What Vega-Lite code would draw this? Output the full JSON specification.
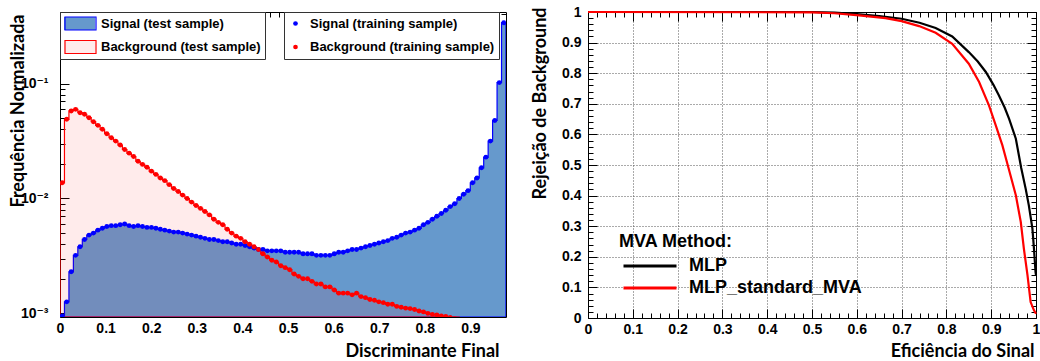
{
  "$schema": "https://vega.github.io/schema/vega-lite/v6.json",
  "background": "white",
  "padding": {"left": 9, "top": 5, "right": 0, "bottom": 0},
  "bounds": "flush",
  "spacing": 82,
  "resolve": {"scale": {"fill": "independent", "stroke": "independent", "color": "independent"}, "legend": {"fill": "independent", "stroke": "independent", "color": "independent"}},
  "config": {
    "view": {"stroke": null},
    "axis": {"labelFont": "Liberation Sans, DejaVu Sans", "labelFontWeight": "bold", "labelFontSize": 14, "labelColor": "#000", "titleFont": "Lato", "titleFontWeight": "bold", "titleFontSize": 18, "titleColor": "#000", "domainColor": "#000", "domainWidth": 1, "tickColor": "#000", "tickWidth": 1, "labelFlush": false, "labelOverlap": false, "labelBound": false, "grid": false, "zindex": 1},
    "legend": {"labelFont": "Liberation Sans", "labelFontWeight": "bold", "labelColor": "#000", "titleColor": "#000", "labelLimit": 400, "zindex": 0}
  },
  "datasets": {
    "hist": [
      {"x": 0, "s": 0.00095, "b": 0.0137, "edge": true},
      {"x": 0.0049, "s": 0.00095, "b": 0.0137},
      {"x": 0.0147, "s": 0.00126, "b": 0.0489},
      {"x": 0.0245, "s": 0.0023, "b": 0.0578},
      {"x": 0.0342, "s": 0.0032, "b": 0.0597},
      {"x": 0.044, "s": 0.0038, "b": 0.0558},
      {"x": 0.0538, "s": 0.0044, "b": 0.0541},
      {"x": 0.0636, "s": 0.0048, "b": 0.0505},
      {"x": 0.0733, "s": 0.005, "b": 0.0466},
      {"x": 0.0831, "s": 0.0053, "b": 0.0433},
      {"x": 0.0929, "s": 0.0055, "b": 0.04},
      {"x": 0.1027, "s": 0.0057, "b": 0.0366},
      {"x": 0.1125, "s": 0.0058, "b": 0.0338},
      {"x": 0.1222, "s": 0.0058, "b": 0.0316},
      {"x": 0.132, "s": 0.0059, "b": 0.0292},
      {"x": 0.1418, "s": 0.006, "b": 0.0267},
      {"x": 0.1516, "s": 0.0058, "b": 0.0248},
      {"x": 0.1614, "s": 0.0057, "b": 0.0232},
      {"x": 0.1711, "s": 0.0058, "b": 0.0211},
      {"x": 0.1809, "s": 0.0057, "b": 0.0198},
      {"x": 0.1907, "s": 0.0056, "b": 0.0187},
      {"x": 0.2005, "s": 0.0056, "b": 0.0173},
      {"x": 0.2103, "s": 0.0055, "b": 0.0162},
      {"x": 0.22, "s": 0.0054, "b": 0.0151},
      {"x": 0.2298, "s": 0.0053, "b": 0.0143},
      {"x": 0.2396, "s": 0.0052, "b": 0.0132},
      {"x": 0.2494, "s": 0.0051, "b": 0.0122},
      {"x": 0.2592, "s": 0.0051, "b": 0.0115},
      {"x": 0.2689, "s": 0.005, "b": 0.0107},
      {"x": 0.2787, "s": 0.0049, "b": 0.01},
      {"x": 0.2885, "s": 0.0048, "b": 0.0093},
      {"x": 0.2983, "s": 0.0047, "b": 0.0087},
      {"x": 0.3081, "s": 0.0046, "b": 0.0082},
      {"x": 0.3178, "s": 0.0045, "b": 0.0077},
      {"x": 0.3276, "s": 0.0044, "b": 0.0072},
      {"x": 0.3374, "s": 0.0044, "b": 0.0066},
      {"x": 0.3472, "s": 0.0043, "b": 0.0062},
      {"x": 0.357, "s": 0.0042, "b": 0.0059},
      {"x": 0.3667, "s": 0.0042, "b": 0.0054},
      {"x": 0.3765, "s": 0.0041, "b": 0.005},
      {"x": 0.3863, "s": 0.004, "b": 0.0047},
      {"x": 0.3961, "s": 0.004, "b": 0.0045},
      {"x": 0.4058, "s": 0.0039, "b": 0.0042},
      {"x": 0.4156, "s": 0.0038, "b": 0.004},
      {"x": 0.4254, "s": 0.0037, "b": 0.0038},
      {"x": 0.4352, "s": 0.0036, "b": 0.0036},
      {"x": 0.445, "s": 0.0036, "b": 0.0033},
      {"x": 0.4547, "s": 0.0035, "b": 0.0031},
      {"x": 0.4645, "s": 0.0035, "b": 0.0029},
      {"x": 0.4743, "s": 0.0035, "b": 0.0028},
      {"x": 0.4841, "s": 0.0035, "b": 0.0026},
      {"x": 0.4939, "s": 0.0034, "b": 0.0025},
      {"x": 0.5036, "s": 0.0034, "b": 0.0024},
      {"x": 0.5134, "s": 0.0034, "b": 0.0022},
      {"x": 0.5232, "s": 0.0034, "b": 0.0021},
      {"x": 0.533, "s": 0.0033, "b": 0.002},
      {"x": 0.5428, "s": 0.0033, "b": 0.002},
      {"x": 0.5525, "s": 0.0033, "b": 0.0019},
      {"x": 0.5623, "s": 0.0032, "b": 0.0018},
      {"x": 0.5721, "s": 0.0032, "b": 0.0018},
      {"x": 0.5819, "s": 0.0032, "b": 0.0017},
      {"x": 0.5917, "s": 0.0032, "b": 0.0017},
      {"x": 0.6014, "s": 0.0033, "b": 0.0016},
      {"x": 0.6112, "s": 0.0034, "b": 0.0015},
      {"x": 0.621, "s": 0.0034, "b": 0.0015},
      {"x": 0.6308, "s": 0.0035, "b": 0.0015},
      {"x": 0.6406, "s": 0.0036, "b": 0.00145},
      {"x": 0.6503, "s": 0.0036, "b": 0.0015},
      {"x": 0.6601, "s": 0.0037, "b": 0.0014},
      {"x": 0.6699, "s": 0.0038, "b": 0.00137},
      {"x": 0.6797, "s": 0.0039, "b": 0.00132},
      {"x": 0.6895, "s": 0.004, "b": 0.0013},
      {"x": 0.6992, "s": 0.0041, "b": 0.00126},
      {"x": 0.709, "s": 0.0042, "b": 0.00124},
      {"x": 0.7188, "s": 0.0043, "b": 0.0012},
      {"x": 0.7286, "s": 0.0045, "b": 0.0012},
      {"x": 0.7384, "s": 0.0046, "b": 0.00115},
      {"x": 0.7481, "s": 0.0048, "b": 0.00113},
      {"x": 0.7579, "s": 0.005, "b": 0.00111},
      {"x": 0.7677, "s": 0.0051, "b": 0.0011},
      {"x": 0.7775, "s": 0.0053, "b": 0.00108},
      {"x": 0.7873, "s": 0.0055, "b": 0.00105},
      {"x": 0.797, "s": 0.0059, "b": 0.00103},
      {"x": 0.8068, "s": 0.0062, "b": 0.001},
      {"x": 0.8166, "s": 0.0066, "b": 0.00098},
      {"x": 0.8264, "s": 0.007, "b": 0.00097},
      {"x": 0.8362, "s": 0.0074, "b": 0.00095},
      {"x": 0.8459, "s": 0.0079, "b": 0.00094},
      {"x": 0.8557, "s": 0.0085, "b": 0.00092},
      {"x": 0.8655, "s": 0.009, "b": 0.0009},
      {"x": 0.8753, "s": 0.01, "b": 0.00085},
      {"x": 0.8851, "s": 0.0109},
      {"x": 0.8948, "s": 0.0117},
      {"x": 0.9046, "s": 0.0137},
      {"x": 0.9144, "s": 0.0151},
      {"x": 0.9242, "s": 0.0185},
      {"x": 0.934, "s": 0.0229},
      {"x": 0.9437, "s": 0.0316},
      {"x": 0.9535, "s": 0.0478},
      {"x": 0.9633, "s": 0.102},
      {"x": 0.9731, "s": 0.339},
      {"x": 0.978, "s": 0.339, "edge": true}
    ],
    "roc": [
      {"m": "MLP", "e": 0, "r": 1},
      {"m": "MLP", "e": 0.5, "r": 1},
      {"m": "MLP", "e": 0.55, "r": 0.998},
      {"m": "MLP", "e": 0.6, "r": 0.993},
      {"m": "MLP", "e": 0.65, "r": 0.987},
      {"m": "MLP", "e": 0.7, "r": 0.978},
      {"m": "MLP", "e": 0.74, "r": 0.965},
      {"m": "MLP", "e": 0.776, "r": 0.948},
      {"m": "MLP", "e": 0.813, "r": 0.92},
      {"m": "MLP", "e": 0.85, "r": 0.869},
      {"m": "MLP", "e": 0.87, "r": 0.838},
      {"m": "MLP", "e": 0.888, "r": 0.804},
      {"m": "MLP", "e": 0.905, "r": 0.762},
      {"m": "MLP", "e": 0.917, "r": 0.728},
      {"m": "MLP", "e": 0.93, "r": 0.688},
      {"m": "MLP", "e": 0.94, "r": 0.651},
      {"m": "MLP", "e": 0.955, "r": 0.586},
      {"m": "MLP", "e": 0.967, "r": 0.49},
      {"m": "MLP", "e": 0.977, "r": 0.422},
      {"m": "MLP", "e": 0.984, "r": 0.368},
      {"m": "MLP", "e": 0.992, "r": 0.292},
      {"m": "MLP", "e": 0.9955, "r": 0.226},
      {"m": "MLP", "e": 0.999, "r": 0.15},
      {"m": "MLP", "e": 1, "r": 0.14},
      {"m": "MLP_standard_MVA", "e": 0, "r": 1},
      {"m": "MLP_standard_MVA", "e": 0.5, "r": 0.999},
      {"m": "MLP_standard_MVA", "e": 0.55, "r": 0.996},
      {"m": "MLP_standard_MVA", "e": 0.605, "r": 0.989},
      {"m": "MLP_standard_MVA", "e": 0.664, "r": 0.98},
      {"m": "MLP_standard_MVA", "e": 0.7, "r": 0.97},
      {"m": "MLP_standard_MVA", "e": 0.739, "r": 0.954},
      {"m": "MLP_standard_MVA", "e": 0.776, "r": 0.932},
      {"m": "MLP_standard_MVA", "e": 0.813, "r": 0.896},
      {"m": "MLP_standard_MVA", "e": 0.85, "r": 0.831},
      {"m": "MLP_standard_MVA", "e": 0.873, "r": 0.771},
      {"m": "MLP_standard_MVA", "e": 0.895, "r": 0.695},
      {"m": "MLP_standard_MVA", "e": 0.91, "r": 0.63},
      {"m": "MLP_standard_MVA", "e": 0.925, "r": 0.564},
      {"m": "MLP_standard_MVA", "e": 0.94, "r": 0.483},
      {"m": "MLP_standard_MVA", "e": 0.955, "r": 0.401},
      {"m": "MLP_standard_MVA", "e": 0.966, "r": 0.314},
      {"m": "MLP_standard_MVA", "e": 0.973, "r": 0.226},
      {"m": "MLP_standard_MVA", "e": 0.981, "r": 0.14},
      {"m": "MLP_standard_MVA", "e": 0.988, "r": 0.052},
      {"m": "MLP_standard_MVA", "e": 0.9955, "r": 0.025},
      {"m": "MLP_standard_MVA", "e": 1, "r": 0.014}
    ]
  },
  "hconcat": [
    {
      "width": 446,
      "height": 305,
      "data": {"name": "hist"},
      "resolve": {"axis": {"x": "independent", "y": "independent"}},
      "layer": [
        {
          "transform": [{"fold": ["s", "b"], "as": ["k", "v"]}],
          "mark": {"type": "area", "interpolate": "step", "clip": true, "strokeWidth": 1.2},
          "encoding": {
            "x": {"field": "x", "type": "quantitative", "scale": {"domain": [0, 0.978], "nice": false, "zero": false},
              "axis": {"orient": "bottom", "values": [0,0.02,0.04,0.06,0.08,0.1,0.12,0.14,0.16,0.18,0.2,0.22,0.24,0.26,0.28,0.3,0.32,0.34,0.36,0.38,0.4,0.42,0.44,0.46,0.48,0.5,0.52,0.54,0.56,0.58,0.6,0.62,0.64,0.66,0.68,0.7,0.72,0.74,0.76,0.78,0.8,0.82,0.84,0.86,0.88,0.9,0.92,0.94,0.96],
                "labelExpr": "abs(datum.value*10-round(datum.value*10))<0.001 ? format(datum.value,'~g') : ''",
                "tickSize": {"condition": {"test": "abs(datum.value*10-round(datum.value*10))<0.001", "value": -9}, "value": -5},
                "labelPadding": 13.5,
                "title": "Discriminante Final", "titleX": 439, "titleY": 39, "titleAlign": "right", "titleBaseline": "alphabetic", "titleAnchor": "end"}},
            "y": {"field": "v", "type": "quantitative", "stack": null, "scale": {"type": "log", "domain": [0.00093, 0.42], "nice": false},
              "axis": {"orient": "left", "values": [0.001,0.002,0.003,0.004,0.005,0.006,0.007,0.008,0.009,0.01,0.02,0.03,0.04,0.05,0.06,0.07,0.08,0.09,0.1,0.2,0.3,0.4],
                "labelExpr": "datum.value==0.1?'10⁻¹':datum.value==0.01?'10⁻²':datum.value==0.001?'10⁻³':''",
                "tickSize": {"condition": {"test": "datum.value==0.1||datum.value==0.01||datum.value==0.001", "value": -9}, "value": -5},
                "labelPadding": 21,
                "title": "Frequência Normalizada", "titleX": -36.5, "titleY": 2, "titleAlign": "right", "titleBaseline": "alphabetic", "titleAngle": -90, "titleAnchor": "end"}},
            "fill": {"field": "k", "type": "nominal", "scale": {"domain": ["s", "b"], "range": ["#6699CC", "rgba(255,0,0,0.08)"]},
              "legend": {"orient": "none", "legendX": 0, "legendY": 0, "title": null, "fillColor": "#ffffff", "strokeColor": "#333333", "padding": 4,
                "symbolType": "M-1,-0.42H1V0.42H-1Z", "symbolSize": 961, "symbolStrokeWidth": 0, "clipHeight": 15, "rowPadding": 8.5, "labelOffset": 6,
                "labelFontSize": 13, "zindex": 0,
                "labelExpr": "datum.value == 's' ? 'Signal (test sample)' : 'Background (test sample)'"}},
            "stroke": {"field": "k", "type": "nominal", "sort": "descending", "scale": {"range": ["#0000FF", "#FF0000"]},
              "legend": {"orient": "none", "legendX": 0, "legendY": 0, "title": null, "padding": 4,
                "symbolType": "M-1,-0.42H1V0.42H-1Z", "symbolSize": 961, "symbolStrokeWidth": 1.2, "symbolFillColor": "transparent", "clipHeight": 15, "rowPadding": 8.5, "labelOffset": 6,
                "labelFontSize": 13, "zindex": 1,
                "labelExpr": "''"}}
          }
        },
        {
          "mark": {"type": "area", "interpolate": "step", "clip": true, "opacity": 0},
          "encoding": {
            "x": {"field": "x", "type": "quantitative",
              "axis": {"orient": "top", "values": [0,0.02,0.04,0.06,0.08,0.1,0.12,0.14,0.16,0.18,0.2,0.22,0.24,0.26,0.28,0.3,0.32,0.34,0.36,0.38,0.4,0.42,0.44,0.46,0.48,0.5,0.52,0.54,0.56,0.58,0.6,0.62,0.64,0.66,0.68,0.7,0.72,0.74,0.76,0.78,0.8,0.82,0.84,0.86,0.88,0.9,0.92,0.94,0.96],
                "labels": false, "title": null,
                "tickSize": {"condition": {"test": "abs(datum.value*10-round(datum.value*10))<0.001", "value": -9}, "value": -5}}},
            "y": {"field": "b", "type": "quantitative",
              "axis": {"orient": "right", "values": [0.001,0.002,0.003,0.004,0.005,0.006,0.007,0.008,0.009,0.01,0.02,0.03,0.04,0.05,0.06,0.07,0.08,0.09,0.1,0.2,0.3,0.4],
                "labels": false, "title": null,
                "tickSize": {"condition": {"test": "datum.value==0.1||datum.value==0.01||datum.value==0.001", "value": -9}, "value": -5}}}
          }
        },
        {
          "transform": [{"filter": "!datum.edge"}, {"fold": ["s", "b"], "as": ["kp", "vp"]}],
          "mark": {"type": "circle", "size": 24, "opacity": 1, "clip": true},
          "encoding": {
            "x": {"field": "x", "type": "quantitative", "axis": null},
            "y": {"field": "vp", "type": "quantitative", "axis": null},
            "color": {"field": "kp", "type": "nominal", "sort": "descending", "scale": {"range": ["#0000FF", "#FF0000"]},
              "legend": {"orient": "none", "legendX": 224, "legendY": 0, "title": null, "fillColor": "#ffffff", "strokeColor": "#333333", "padding": 4,
                "symbolType": "circle", "symbolSize": 22, "symbolOffset": 1, "labelOffset": 8, "clipHeight": 15, "rowPadding": 8.5,
                "labelFontSize": 13,
                "labelExpr": "datum.value == 's' ? 'Signal (training sample)' : 'Background (training sample)'"}}
          }
        }
      ]
    },
    {
      "width": 448,
      "height": 306,
      "data": {"name": "roc"},
      "resolve": {"axis": {"x": "independent", "y": "independent"}},
      "layer": [
        {
          "mark": {"type": "line", "strokeWidth": 2.2},
          "encoding": {
            "x": {"field": "e", "type": "quantitative", "scale": {"domain": [0, 1], "nice": false},
              "axis": {"orient": "bottom", "zindex": 0, "values": [0,0.02,0.04,0.06,0.08,0.1,0.12,0.14,0.16,0.18,0.2,0.22,0.24,0.26,0.28,0.3,0.32,0.34,0.36,0.38,0.4,0.42,0.44,0.46,0.48,0.5,0.52,0.54,0.56,0.58,0.6,0.62,0.64,0.66,0.68,0.7,0.72,0.74,0.76,0.78,0.8,0.82,0.84,0.86,0.88,0.9,0.92,0.94,0.96,0.98,1],
                "labelExpr": "abs(datum.value*10-round(datum.value*10))<0.001 ? format(datum.value,'~g') : ''",
                "tickSize": {"condition": {"test": "abs(datum.value*10-round(datum.value*10))<0.001", "value": -9}, "value": -5},
                "labelPadding": 13.5,
                "grid": true, "gridDash": [1, 2], "gridColor": "#555555", "gridWidth": 1,
                "gridOpacity": {"condition": {"test": "abs(datum.value*10-round(datum.value*10))<0.001", "value": 1}, "value": 0},
                "title": "Eficiência do Sinal", "titleX": 446, "titleY": 38, "titleAlign": "right", "titleBaseline": "alphabetic", "titleAnchor": "end"}},
            "y": {"field": "r", "type": "quantitative", "scale": {"domain": [0, 1], "nice": false},
              "axis": {"orient": "left", "zindex": 0, "values": [0,0.02,0.04,0.06,0.08,0.1,0.12,0.14,0.16,0.18,0.2,0.22,0.24,0.26,0.28,0.3,0.32,0.34,0.36,0.38,0.4,0.42,0.44,0.46,0.48,0.5,0.52,0.54,0.56,0.58,0.6,0.62,0.64,0.66,0.68,0.7,0.72,0.74,0.76,0.78,0.8,0.82,0.84,0.86,0.88,0.9,0.92,0.94,0.96,0.98,1],
                "labelExpr": "abs(datum.value*10-round(datum.value*10))<0.001 ? format(datum.value,'~g') : ''",
                "tickSize": {"condition": {"test": "abs(datum.value*10-round(datum.value*10))<0.001", "value": -9}, "value": -5},
                "labelPadding": 16,
                "grid": true, "gridDash": [1, 2], "gridColor": "#555555", "gridWidth": 1,
                "gridOpacity": {"condition": {"test": "abs(datum.value*10-round(datum.value*10))<0.001", "value": 1}, "value": 0},
                "title": "Rejeição de Background", "titleX": -42.4, "titleY": -5, "titleAlign": "right", "titleBaseline": "alphabetic", "titleAngle": -90, "titleAnchor": "end"}},
            "stroke": {"field": "m", "type": "nominal", "scale": {"domain": ["MLP", "MLP_standard_MVA"], "range": ["#000000", "#FF0000"]},
              "legend": {"orient": "none", "legendX": 31, "legendY": 221, "title": "MVA Method:", "titleFont": "Liberation Sans", "titleFontSize": 18, "titleFontWeight": "bold", "titlePadding": 4,
                "labelFontSize": 18, "symbolType": "stroke", "symbolSize": 2809, "symbolStrokeWidth": 3, "symbolOffset": 3, "labelOffset": 11, "clipHeight": 22, "rowPadding": 0, "padding": 0}}
          }
        },
        {
          "mark": {"type": "line", "strokeOpacity": 0},
          "encoding": {
            "x": {"field": "e", "type": "quantitative",
              "axis": {"orient": "top", "values": [0,0.02,0.04,0.06,0.08,0.1,0.12,0.14,0.16,0.18,0.2,0.22,0.24,0.26,0.28,0.3,0.32,0.34,0.36,0.38,0.4,0.42,0.44,0.46,0.48,0.5,0.52,0.54,0.56,0.58,0.6,0.62,0.64,0.66,0.68,0.7,0.72,0.74,0.76,0.78,0.8,0.82,0.84,0.86,0.88,0.9,0.92,0.94,0.96,0.98,1],
                "labels": false, "title": null,
                "tickSize": {"condition": {"test": "abs(datum.value*10-round(datum.value*10))<0.001", "value": -9}, "value": -5}}},
            "y": {"field": "r", "type": "quantitative",
              "axis": {"orient": "right", "values": [0,0.02,0.04,0.06,0.08,0.1,0.12,0.14,0.16,0.18,0.2,0.22,0.24,0.26,0.28,0.3,0.32,0.34,0.36,0.38,0.4,0.42,0.44,0.46,0.48,0.5,0.52,0.54,0.56,0.58,0.6,0.62,0.64,0.66,0.68,0.7,0.72,0.74,0.76,0.78,0.8,0.82,0.84,0.86,0.88,0.9,0.92,0.94,0.96,0.98,1],
                "labels": false, "title": null,
                "tickSize": {"condition": {"test": "abs(datum.value*10-round(datum.value*10))<0.001", "value": -9}, "value": -5}}}
          }
        }
      ]
    }
  ]
}
